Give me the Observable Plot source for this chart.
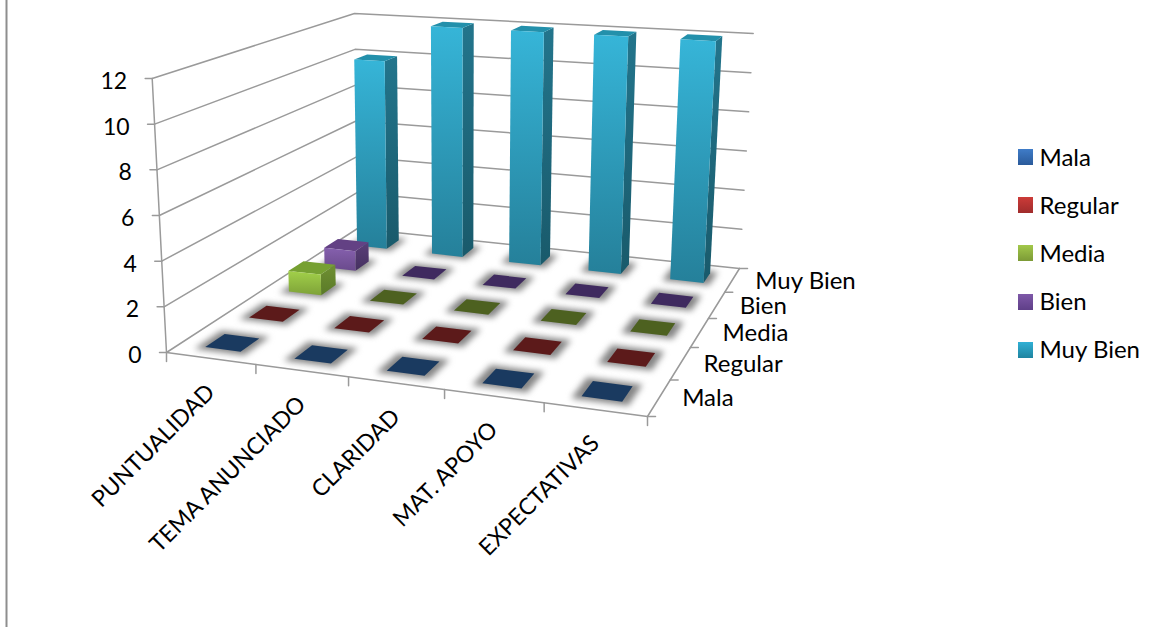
<!DOCTYPE html>
<html><head><meta charset="utf-8">
<script src="https://cdn.jsdelivr.net/npm/d3@7"></script>
<script src="https://cdn.jsdelivr.net/npm/@observablehq/plot@0.6"></script>
<style>
html,body{margin:0;padding:0;background:#fff}
#wrap{position:relative;width:1168px;height:627px;overflow:hidden;font-family:Lato,sans-serif;color:#000}
#legend{position:absolute;left:1018px;top:132px}
#legend div{height:48.2px;display:flex;align-items:center;font-size:24px}
#legend i{display:block;width:15px;height:16px;margin-right:6.5px;position:relative;top:1px}
</style></head><body><div id="wrap"><div id="legend"></div></div>
<script>
const categories = ["PUNTUALIDAD","TEMA ANUNCIADO","CLARIDAD","MAT. APOYO","EXPECTATIVAS"];
const seriesNames = ["Mala","Regular","Media","Bien","Muy Bien"];
const mala    = [0,0,0,0,0];
const regular = [0,0,0,0,0];
const media   = [1,0,0,0,0];
const bien    = [1,0,0,0,0];
const muyBien = [10,12,12,12,12];
const valueTicks = [0,2,4,6,8,10,12];
const seriesValues = [mala,regular,media,bien,muyBien];

const palette = [
 {front:["#3f7cc8","#2a5a9a"],side:["#264f85","#1c3c66"],top:"#2d5f9e",flat:"#1a3a60",legend:["#3f7cc8","#2a5a9a"]},
 {front:["#cc3b38","#a02c2c"],side:["#8a2624","#6a1c1c"],top:"#a02e2c",flat:"#5c1a1a",legend:["#cc3b38","#a02c2c"]},
 {front:["#a2d04a","#7ea238"],side:["#6f9032","#5a7a28"],top:"#76a032",flat:"#4d6120",legend:["#a2c84a","#7c9a36"]},
 {front:["#8560ad","#6a4a8c"],side:["#5a3f78","#453060"],top:"#634184",flat:"#3f2a5f",legend:["#7e58a8","#5f3f88"]},
 {front:["#36b5d8","#25809a"],side:["#23758c","#195a6b"],top:"#2390ab",flat:"#1d6c82",legend:["#30b0d5","#1f84a0"]}
];

// Perspective of the chart box: floor and ceiling planes
function quadMap(q00,q10,q11,q01,nu,nv){
  const [x0,y0]=q00,[x1,y1]=q10,[x2,y2]=q11,[x3,y3]=q01;
  const dx1=x1-x2,dx2=x3-x2,sx=x0-x1+x2-x3,dy1=y1-y2,dy2=y3-y2,sy=y0-y1+y2-y3;
  const det=dx1*dy2-dx2*dy1;
  const g=(sx*dy2-dx2*sy)/det,h=(dx1*sy-sx*dy1)/det;
  const a=x1-x0+g*x1,b=x3-x0+h*x3,d=y1-y0+g*y1,e=y3-y0+h*y3;
  return (u,v)=>{u/=nu;v/=nv;const w=g*u+h*v+1;return [(a*u+b*v+x0)/w,(d*u+e*v+y0)/w];};
}
const nU=categories.length,nV=seriesNames.length,zMax=d3.max(valueTicks);
const floorMap=quadMap([166,352],[647,416],[739,268],[357,228],nU,nV);
const ceilMap =quadMap([151.7,78],[661,113],[752.7,33],[354,13],nU,nV);
function P(u,v,z){
  const f=floorMap(u,v),c=ceilMap(u,v),t=z/zMax;
  return {x:f[0]+(c[0]-f[0])*t,y:f[1]+(c[1]-f[1])*t};
}
const gridColor="#9a9a9a";
const line=(pts,opt={})=>Plot.line(pts,{x:"x",y:"y",stroke:gridColor,strokeWidth:1.5,...opt});
const poly=(pts,fill,opt={})=>Plot.line(pts,{x:"x",y:"y",fill,stroke:"none",...opt});
const shift=(p,dx,dy)=>({x:p.x+dx,y:p.y+dy});

const marks=[];
marks.push(()=>{
  const defs=d3.create("svg:defs");
  palette.forEach((c,i)=>{
    ["front","side"].forEach(k=>{
      const g=defs.append("linearGradient").attr("id",`${k}${i}`).attr("x1",0).attr("y1",0).attr("x2",0).attr("y2",1);
      g.append("stop").attr("offset",0).attr("stop-color",c[k][0]);
      g.append("stop").attr("offset",1).attr("stop-color",c[k][1]);
    });
  });
  return defs.node();
});
marks.push(Plot.ruleX([6],{stroke:"#8e8e8e",strokeWidth:2}));
for(const z of valueTicks){
  marks.push(line([P(0,0,z),P(0,nV,z),P(nU,nV,z)]));
  marks.push(line([P(0,0,z),shift(P(0,0,z),-7,0)]));
}
marks.push(line([P(0,0,0),P(0,0,zMax)]));
marks.push(line([P(0,0,0),P(nU,0,0),P(nU,nV,0)]));
for(let i=0;i<=nU;i++){const p=P(i,0,0);marks.push(line([p,shift(p,0,9)]));}
for(let j=0;j<=nV;j++){const p=P(nU,j,0);marks.push(line([p,shift(p,8,0)]));}

// bars back to front
for(let j=nV-1;j>=0;j--){
  const vals=seriesValues[j];
  for(let i=0;i<nU;i++){
    const z=vals[i],c=palette[j];
    const flat=z===0;
    const u0=i+(flat?.29:.3),u1=i+1-(flat?.31:.3),v0=j+(flat?.28:.27),v1=j+1-(flat?.29:.32);
    const m=0.08;
    marks.push(poly([P(u0-m,v0-m,0),P(u1+m,v0-m,0),P(u1+m,v1+m,0),P(u0-m,v1+m,0)],"#858585",{imageFilter:"blur(3px)"}));
    if(flat){
      marks.push(poly([P(u0,v0,0),P(u1,v0,0),P(u1,v1,0),P(u0,v1,0)],c.flat));
    }else{
      marks.push(poly([P(u1,v0,0),P(u1,v1,0),P(u1,v1,z),P(u1,v0,z)],`url(#side${j})`));
      marks.push(poly([P(u0,v0,z),P(u1,v0,z),P(u1,v1,z),P(u0,v1,z)],c.top));
      marks.push(poly([P(u0,v0,0),P(u1,v0,0),P(u1,v0,z),P(u0,v0,z)],`url(#front${j})`));
    }
  }
}
const fontFamily="Lato, sans-serif",fontSize=23;
marks.push(Plot.text(valueTicks,{x:z=>P(0,0,z).x,y:z=>P(0,0,z).y,text:z=>String(z),dx:-25,dy:3,textAnchor:"end",fontSize,fontFamily,fill:"#000"}));
marks.push(Plot.text(categories,{x:(d,i)=>P(i+.5,0,0).x,y:(d,i)=>P(i+.5,0,0).y,text:d=>d,rotate:-45,dx:0,dy:30,textAnchor:"end",fontSize,fontFamily,fill:"#000"}));
marks.push(Plot.text(seriesNames,{x:(d,j)=>P(nU,j+.5,0).x,y:(d,j)=>P(nU,j+.5,0).y,text:d=>d,dx:23,dy:1,textAnchor:"start",fontSize:24,fontFamily,fill:"#000"}));

const chart=Plot.plot({width:1168,height:627,margin:0,
  style:{background:"transparent",fontFamily},
  x:{domain:[0,1168],range:[0,1168],axis:null},
  y:{domain:[0,627],range:[0,627],axis:null},
  marks});
document.getElementById("wrap").prepend(chart);
const leg=d3.select("#legend");
seriesNames.forEach((s,j)=>{
  const r=leg.append("div");
  r.append("i").style("background",`linear-gradient(${palette[j].legend[0]},${palette[j].legend[1]})`);
  r.append("span").text(s);
});
</script></body></html>
